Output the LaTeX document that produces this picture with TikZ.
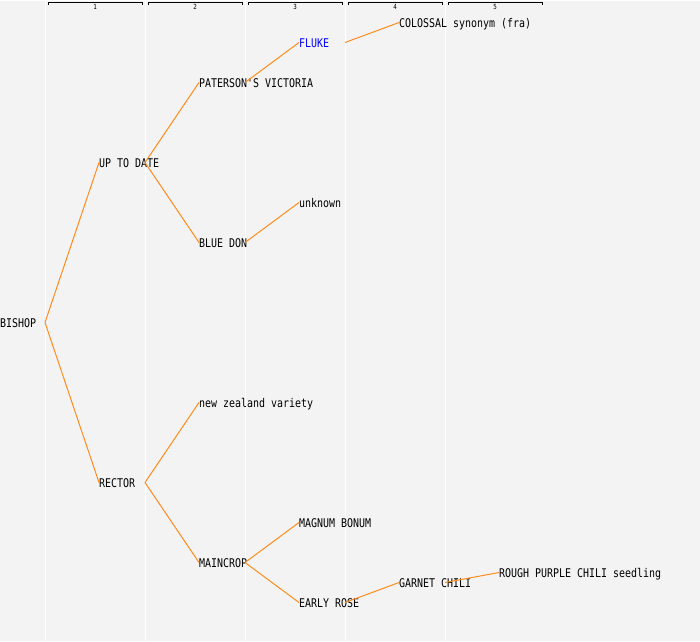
\documentclass[tikz,border=0pt]{standalone}
\usepackage{fontspec}
\setmonofont[FakeStretch=0.83]{DejaVu Sans Mono}
\usepackage{tikz}

\definecolor{panel}{HTML}{F3F3F3}
\definecolor{branch}{HTML}{FF8C1A}
\definecolor{synblue}{HTML}{0000FF}

\begin{document}
\begin{tikzpicture}[
                    x=1pt, y=-1pt,
                    every node/.style={
                        anchor=west,
                        inner sep=0pt,
                        text height=9pt,
                        text depth=0pt,
                        font=\ttfamily\fontsize{12}{14}\selectfont
                    },
                    edge/.style={draw=branch, line width=1pt}
                ]
                    % background and columns
                    \fill[panel] (0,0) rectangle (700,640);
                    \foreach \c in {1,...,5} {
                        \draw[white, line width=1pt] (\c*100-55,0) -- (\c*100-55,640);
                        \draw[black, line width=1pt] (\c*100-52,4.5) -- (\c*100-52,1.5) -- (\c*100+42,1.5) -- (\c*100+42,4.5);
                        \node[anchor=center, text height=5pt, font=\ttfamily\fontsize{7}{8}\selectfont] at (\c*100-5,6) {\c};
                    }

                    \node (bishop) at (0,322) {BISHOP};
                    \node (uptodate) at (99,162) {UP TO DATE};
                    \node (rector) at (99,482) {RECTOR};
                    \node (paterson) at (199,82) {PATERSON'S VICTORIA};
                    \node (bluedon) at (199,242) {BLUE DON};
                    \node (newzealand) at (199,402) {new zealand variety};
                    \node (maincrop) at (199,562) {MAINCROP};
                    \node[text=synblue] (fluke) at (299,42) {FLUKE};
                    \node (unknown) at (299,202) {unknown};
                    \node (magnum) at (299,522) {MAGNUM BONUM};
                    \node (earlyrose) at (299,602) {EARLY ROSE};
                    \node (colossal) at (399,22) {COLOSSAL synonym (fra)};
                    \node (garnet) at (399,582) {GARNET CHILI};
                    \node (roughpurple) at (499,572) {ROUGH PURPLE CHILI seedling};

                    % Edges
                    \draw[edge] ([xshift=45pt]bishop.west) -- (uptodate.west);
                    \draw[edge] ([xshift=45pt]bishop.west) -- (rector.west);
                    \draw[edge] ([xshift=46pt]uptodate.west) -- (paterson.west);
                    \draw[edge] ([xshift=46pt]uptodate.west) -- (bluedon.west);
                    \draw[edge] ([xshift=46pt]rector.west) -- (newzealand.west);
                    \draw[edge] ([xshift=46pt]rector.west) -- (maincrop.west);
                    \draw[edge] ([xshift=46pt]paterson.west) -- (fluke.west);
                    \draw[edge] ([xshift=46pt]bluedon.west) -- (unknown.west);
                    \draw[edge] ([xshift=46pt]maincrop.west) -- (magnum.west);
                    \draw[edge] ([xshift=46pt]maincrop.west) -- (earlyrose.west);
                    \draw[edge] ([xshift=46pt]fluke.west) -- (colossal.west);
                    \draw[edge] ([xshift=46pt]earlyrose.west) -- (garnet.west);
                    \draw[edge] ([xshift=46pt]garnet.west) -- (roughpurple.west);
                \end{tikzpicture}
\end{document}
